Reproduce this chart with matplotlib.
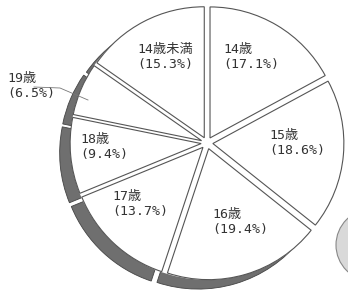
import numpy as np
import matplotlib.pyplot as plt
from matplotlib.patches import Circle

plt.rcParams['font.family'] = ['DejaVu Sans Mono', 'Noto Sans CJK JP']

# clockwise from 12 o'clock
labels = ['14歳', '15歳', '16歳', '17歳', '18歳', '19歳', '14歳未満']
shares = [17.1, 18.6, 19.4, 13.7, 9.4, 6.5, 15.3]

R_PX = 131.0          # pie radius in pixels
CX, CY = 207.0, 143.0  # pie centre in pixels (from top-left)


def px(x, y):
    return (x - CX) / R_PX, (CY - y) / R_PX


fig = plt.figure(figsize=(3.48, 2.98), dpi=100)
ax = fig.add_axes([0, 0, 1, 1])
ax.axis('off')

EXP = 0.045
explode = [EXP] * len(shares)

# dark side of the pie (shifted down-left)
shadow, _ = ax.pie(shares, explode=explode, startangle=90, counterclock=False,
                   center=(-0.08, -0.072), colors=['#6f6f6f'] * len(shares),
                   wedgeprops=dict(edgecolor='#444444', linewidth=0.6))
for w in shadow:
    w.set_zorder(1)

# white disc so the gaps between slices stay white
mask, _ = ax.pie([1], radius=1 + EXP, colors=['white'],
                 wedgeprops=dict(linewidth=0))
mask[0].set_zorder(1.5)

top, _ = ax.pie(shares, explode=explode, startangle=90, counterclock=False,
                colors=['white'] * len(shares),
                wedgeprops=dict(edgecolor='#555555', linewidth=0.8))
for w in top:
    w.set_zorder(2)

# labels inside the slices
label_pos = [(223, 57), (269, 143), (212, 222), (112, 204), (80, 147), (7, 86), (137, 57)]
for name, val, (lx, ly) in zip(labels, shares, label_pos):
    x, y = px(lx, ly)
    ax.text(x, y, f'{name}\n({val}%)', ha='left', va='center', fontsize=9.5,
            color='#333333', linespacing=1.15, zorder=5)

# leader line for 19歳
lx0, ly0 = px(34, 87)
lx1, ly1 = px(60, 88)
lx2, ly2 = px(88, 100)
ax.plot([lx0, lx1, lx2], [ly0, ly1, ly2], color='#777777', lw=0.6, zorder=5)

# part of the neighbouring chart at the bottom right
cx2, cy2 = px(372, 245)
ax.add_patch(Circle((cx2, cy2), 36 / R_PX, facecolor='#d9d9d9',
                    edgecolor='#888888', lw=0.8, zorder=1))

ax.set_xlim(-CX / R_PX, (348 - CX) / R_PX)
ax.set_ylim(-(298 - CY) / R_PX, CY / R_PX)
ax.set_aspect('auto')

fig.savefig('out.png', dpi=100, facecolor='white')
